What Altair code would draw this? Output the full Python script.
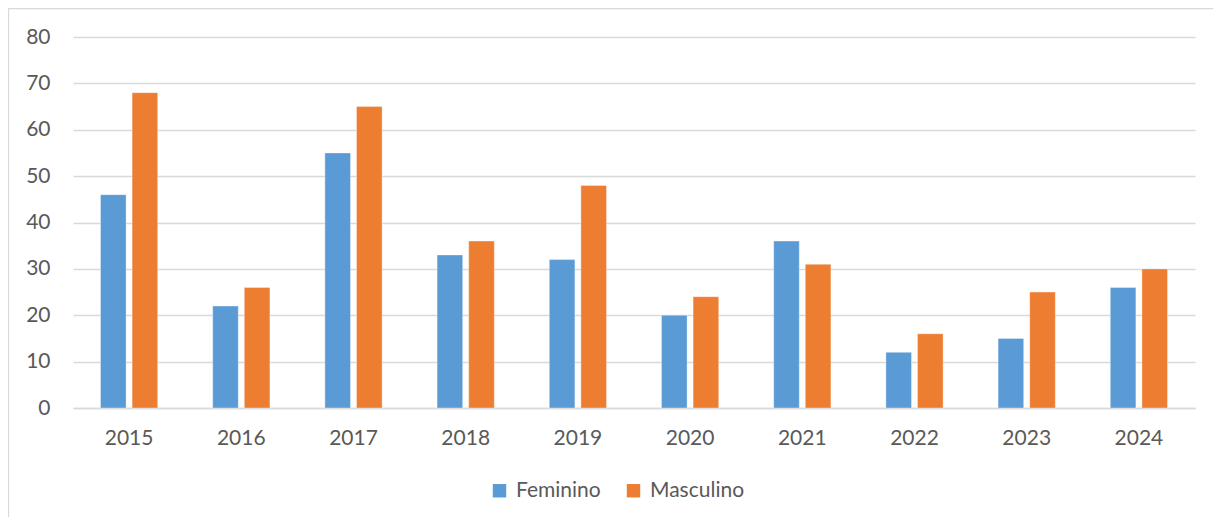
import altair as alt
import pandas as pd

years = ["2015", "2016", "2017", "2018", "2019", "2020", "2021", "2022", "2023", "2024"]
feminino = [46, 22, 55, 33, 32, 20, 36, 12, 15, 26]
masculino = [68, 26, 65, 36, 48, 24, 31, 16, 25, 30]
series = ["Feminino", "Masculino"]
colors = ["#5B9BD5", "#ED7D31"]
y_ticks = [0, 10, 20, 30, 40, 50, 60, 70, 80]

rows = []
for i, yr in enumerate(years):
    rows.append({"ano": yr, "sexo": "Feminino", "valor": feminino[i]})
    rows.append({"ano": yr, "sexo": "Masculino", "valor": masculino[i]})
df = pd.DataFrame(rows)

FONT = "Lato"
TXT = "#595959"
GRID = "#D9D9D9"
FS = 21

bars = alt.Chart(df).mark_bar(stroke="white", strokeWidth=0.6, strokeOpacity=0.6).encode(
    x=alt.X("ano:N", sort=years, title=None,
            scale=alt.Scale(paddingInner=0.49, paddingOuter=0.245),
            axis=alt.Axis(labelAngle=0, ticks=False, domain=True, domainColor=GRID,
                          domainWidth=1.3, labelPadding=19, labelFontSize=FS,
                          labelColor=TXT, labelFont=FONT, grid=False)),
    xOffset=alt.XOffset("sexo:N", sort=series, scale=alt.Scale(paddingInner=0.19)),
    y=alt.Y("valor:Q", title=None,
            scale=alt.Scale(domain=[0, 80], nice=False),
            axis=alt.Axis(values=y_ticks, ticks=False, domain=False, labelPadding=23,
                          labelFontSize=FS, labelColor=TXT, labelFont=FONT,
                          grid=True, gridColor=GRID, gridWidth=1.3)),
    color=alt.Color("sexo:N", sort=series,
                    scale=alt.Scale(domain=series, range=colors),
                    legend=alt.Legend(title=None, orient="none", direction="horizontal",
                                      legendX=416, legendY=443,
                                      symbolType="square", symbolSize=180,
                                      symbolStrokeWidth=0, labelFontSize=FS,
                                      labelFont=FONT, labelColor=TXT,
                                      columnPadding=22, labelOffset=6)),
)

border = alt.Chart(alt.Data(values=[{}])).mark_rect(
    fill=None, stroke=GRID, strokeWidth=1.3
).encode(
    x=alt.value(-64.5), x2=alt.value(1300),
    y=alt.value(-28.5), y2=alt.value(600),
)

chart = alt.layer(border, bars).properties(
    width=1122, height=371,
    background="white",
    autosize=alt.AutoSizeParams(type="none"),
    padding={"left": 65, "top": 29, "right": 18, "bottom": 109},
).configure_view(stroke="transparent", strokeWidth=0)

chart.save("out.html", embed_options={"renderer": "svg", "actions": False})
